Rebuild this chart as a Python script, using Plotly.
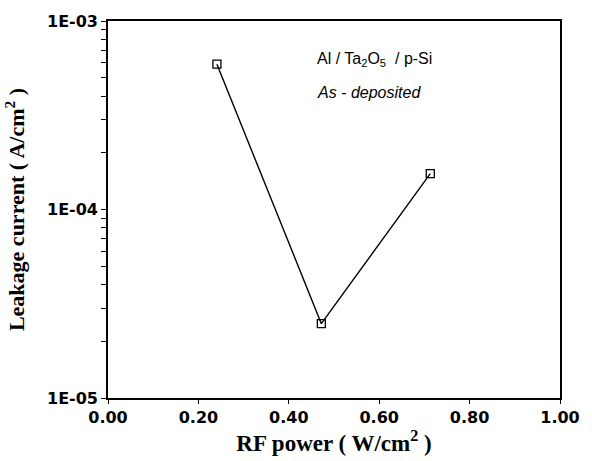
import plotly.graph_objects as go

rf_power = [0.241, 0.472, 0.713]
leakage = [5.9e-4, 2.48e-5, 1.55e-4]
x_ticks = [0.0, 0.2, 0.4, 0.6, 0.8, 1.0]
x_ticktext = ["0.00", "0.20", "0.40", "0.60", "0.80", "1.00"]
y_ticks = [1e-5, 1e-4, 1e-3]
y_ticktext = ["1E-05", "1E-04", "1E-03"]
y_minor = [m * 10**e for e in (-5, -4) for m in range(2, 10)]

y_all = y_ticks + y_minor
y_all_text = ["<b>%s</b>" % t for t in y_ticktext] + [""] * len(y_minor)

fig = go.Figure()
fig.add_trace(go.Scatter(
    x=rf_power, y=leakage, mode="lines+markers",
    line=dict(color="black", width=1.4),
    marker=dict(symbol="square-open", size=8, color="black", line=dict(width=1.3)),
    showlegend=False,
))

fig.update_layout(
    width=592, height=461,
    margin=dict(l=108, r=24, t=14, b=61),
    paper_bgcolor="white", plot_bgcolor="white",
    font=dict(family="Liberation Sans, Arial", color="black"),
)
fig.update_xaxes(
    range=[0, 1], tickvals=x_ticks, ticktext=["<b>%s</b>" % t for t in x_ticktext],
    showline=True, linecolor="black", linewidth=1.6, mirror=True,
    ticks="outside", ticklen=4, tickcolor="black", showgrid=False, zeroline=False,
    ticklabeloverflow="allow",
    tickfont=dict(family="DejaVu Sans", size=16, color="black"),
    title=dict(text="<b>RF power ( W/cm<sup>2</sup> )</b>", standoff=6,
               font=dict(family="Liberation Serif", size=23, color="black")),
)
fig.update_yaxes(
    type="log", range=[-5, -3], tickvals=y_all, ticktext=y_all_text,
    showline=True, linecolor="black", linewidth=1.6, mirror=True,
    ticks="outside", ticklen=5, tickwidth=1.2, tickcolor="black", showgrid=False, zeroline=False,
    ticklabeloverflow="allow",
    tickfont=dict(family="DejaVu Sans", size=16, color="black"),
    title=dict(text="<b>Leakage current ( A/cm<sup>2</sup> )</b>", standoff=16,
               font=dict(family="Liberation Serif", size=22, color="black")),
)
fig.add_annotation(
    xref="paper", yref="paper", x=0.459, y=0.898, xanchor="left", yanchor="middle",
    text="Al / Ta<sub>2</sub>O<sub>5</sub>  / p-Si", showarrow=False,
    font=dict(family="Liberation Sans", size=16, color="black"),
)
fig.add_annotation(
    xref="paper", yref="paper", x=0.459, y=0.81, xanchor="left", yanchor="middle",
    text="<i>As - deposited</i>", showarrow=False,
    font=dict(family="Liberation Sans", size=16, color="black"),
)

fig.write_html("out.html", config={"displayModeBar": False},
               post_script="document.body.style.margin='0';")
